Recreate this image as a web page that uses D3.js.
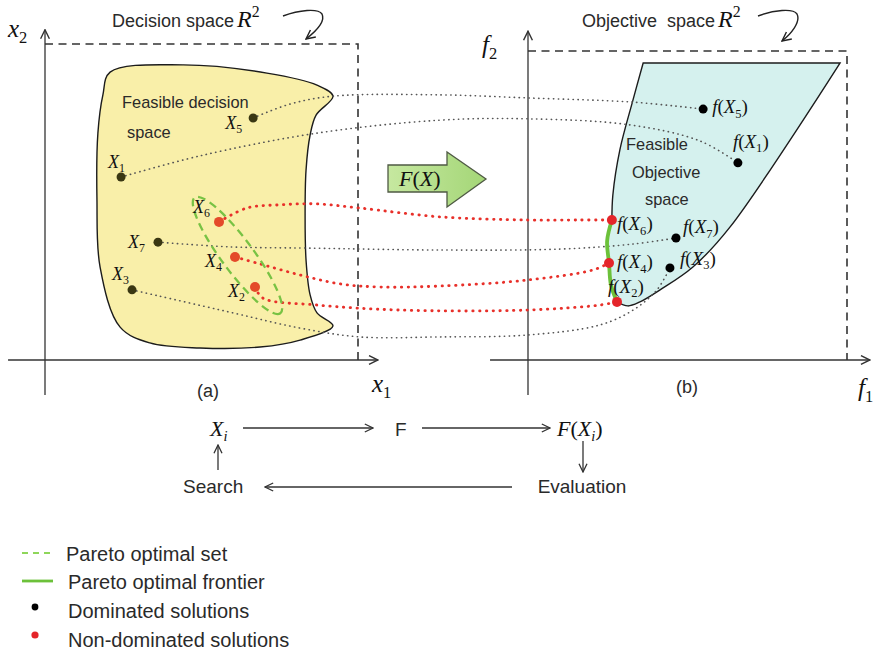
<!DOCTYPE html>
<html>
<head>
<meta charset="utf-8">
<script src="https://cdn.jsdelivr.net/npm/d3@7"></script>
<style>
  html, body { margin: 0; padding: 0; background: #fff; }
  svg { display: block; }
</style>
</head>
<body>
<svg id="fig" width="881" height="652"></svg>
<script>
// ---------- data ----------
// Seven candidate solutions X1..X7: decision variables (x1, x2) and objective values (f1, f2)
const solutionIds = [1, 2, 3, 4, 5, 6, 7];
const x1Values = [24.3, 67.1, 27.8, 60.7, 66.5, 55.6, 36.1];
const x2Values = [57.9, 23.1, 22.2, 32.6, 76.6, 43.7, 37.3];
const f1Values = [65.8, 27.9, 44.5, 25.4, 54.9, 26.3, 46.4];
const f2Values = [63.8, 18.8, 29.8, 31.4, 81.2, 45.3, 39.5];
const nonDominated = [false, true, false, true, false, true, false];

// Boundary of the feasible decision space, in (x1, x2)
const decisionOutline = [
  [20.8, 91.1], [44.1, 93.4], [70.9, 90.8], [86.9, 87.0], [92.0, 83.5],
  [86.6, 77.5], [84.7, 71.2], [83.4, 60.1], [83.1, 45.9], [83.4, 31.6],
  [84.7, 20.6], [86.9, 14.9], [92.0, 10.8],
  [81.5, 6.3], [68.7, 4.1], [49.5, 3.8], [33.5, 5.4], [24.0, 10.4],
  [17.6, 29.4], [16.6, 50.6], [16.9, 71.8], [18.5, 83.9]
];

// Boundary of the feasible objective space, in (f1, f2)
const objectiveTop   = [[36.1, 96.1], [97.8, 96.1]];
const objectiveLower = [[97.8, 96.1], [63.3, 43.0], [51.7, 30.1], [41.4, 22.7], [35.1, 18.8], [31.3, 17.5], [27.9, 18.8]];
const paretoFrontier = [[27.9, 18.8], [26.0, 24.3], [25.4, 31.4], [24.8, 38.5], [26.3, 45.3]];
const objectiveLeft  = [[26.3, 45.3], [26.6, 53.4], [28.8, 68.0], [32.9, 84.1], [36.1, 96.1]];

// Pareto optimal set (centre in x1, x2)
const paretoSetCentre = [61.5, 33.1];

// Route of each mapping X_i -> f(X_i), in decision-space units (x1 beyond 100 lies right of panel a)
const mappingRoutes = [
  [[49.5, 64.6], [86.9, 71.8], [126.2, 75.9], [155.0, 76.3], [186.9, 74.4], [209.3, 69.3]],
  [[69.6, 19.6], [86.9, 17.4], [113.4, 15.8], [154.0, 15.8], [177.3, 17.4]],
  [[60.1, 14.9], [81.5, 10.1], [100.6, 7.3], [126.2, 7.3], [154.0, 7.9], [177.3, 11.1], [187.9, 15.8], [195.5, 22.2]],
  [[68.7, 30.4], [81.5, 26.9], [94.2, 24.1], [107.0, 23.1], [126.2, 23.4], [154.0, 25.3], [175.1, 28.5]],
  [[78.3, 81.0], [92.0, 83.5], [126.2, 83.9], [155.0, 82.9], [187.9, 81.6]],
  [[64.5, 48.1], [75.1, 49.1], [86.9, 49.4], [100.6, 48.1], [126.2, 45.3], [154.0, 44.3], [170.9, 44.3]],
  [[59.1, 35.8], [84.7, 35.4], [126.2, 34.8], [164.5, 35.1], [187.9, 36.7]]
];

const legendLabels = ["Pareto optimal set", "Pareto optimal frontier", "Dominated solutions", "Non-dominated solutions"];

// ---------- layout ----------
const SANS = '"Liberation Sans", Arial, Helvetica, sans-serif';
const SERIF = '"Liberation Serif", "Times New Roman", serif';
const INK = "#2a2a2a";

const svg = d3.select("#fig");

// panel scales: 0..100 spans from the axis origin to the dashed bounding box
const ax = d3.scaleLinear().domain([0, 100]).range([45, 358]);
const ay = d3.scaleLinear().domain([0, 100]).range([360, 44]);
const bx = d3.scaleLinear().domain([0, 100]).range([528, 847]);
const by = d3.scaleLinear().domain([0, 100]).range([360, 51]);

const decisionLabelOffset = [[-13, -9], [-27, 10], [-20, -10], [-30, 10], [-28, 11], [-26, -9], [-30, 6]];
const objectiveLabelOffset = [[-5, -15], [-9, -9], [10, -3], [8, 5], [9, 4], [5, 10], [7, -5]];

// ---------- defs ----------
const defs = svg.append("defs");
function openHead(id, color, size) {
  defs.append("marker")
    .attr("id", id)
    .attr("viewBox", "0 0 10 10")
    .attr("refX", 9.2).attr("refY", 5)
    .attr("markerWidth", size).attr("markerHeight", size)
    .attr("markerUnits", "userSpaceOnUse")
    .attr("orient", "auto")
    .append("path")
    .attr("d", "M1,1 L9.2,5 L1,9")
    .attr("fill", "none")
    .attr("stroke", color)
    .attr("stroke-width", 1.3)
    .attr("stroke-linejoin", "miter");
}
openHead("axisHead", "#333", 11);
openHead("flowHead", "#333", 10);
openHead("curlHead", "#222", 11);

const grad = defs.append("linearGradient").attr("id", "arrowFill")
  .attr("x1", "0").attr("y1", "0").attr("x2", "1").attr("y2", "0");
grad.append("stop").attr("offset", "0").attr("stop-color", "#c6e8a0");
grad.append("stop").attr("offset", "1").attr("stop-color", "#a4d677");

// ---------- helpers ----------
// parts: [text, kind] with kind r (roman), i (italic), sub, subi (italic subscript), sup
function mathText(parent, x, y, parts, size, anchor) {
  const t = parent.append("text")
    .attr("x", x).attr("y", y)
    .attr("font-family", SERIF)
    .attr("font-size", size)
    .attr("fill", "#111");
  if (anchor) t.attr("text-anchor", anchor);
  let shift = 0;
  parts.forEach(([s, kind]) => {
    const ts = t.append("tspan").text(s);
    let target = 0, fs = size;
    if (kind === "sub" || kind === "subi") { target = size * 0.24; fs = size * 0.66; }
    if (kind === "sup") { target = -size * 0.42; fs = size * 0.66; }
    if (kind === "i" || kind === "subi") ts.attr("font-style", "italic");
    ts.attr("font-size", fs);
    if (target !== shift) { ts.attr("dy", target - shift); shift = target; }
  });
  return t;
}

function asContinuation(pathString) {
  return pathString.replace(/^M/, "L");
}

// ---------- feasible regions ----------
const blobLine = d3.line()
  .x(d => ax(d[0])).y(d => ay(d[1]))
  .curve(d3.curveCatmullRomClosed.alpha(0.5));

svg.append("path")
  .attr("d", blobLine(decisionOutline))
  .attr("fill", "#f9efa9")
  .attr("stroke", "#1c1c1c")
  .attr("stroke-width", 1.4);

const objLinear = d3.line().x(d => bx(d[0])).y(d => by(d[1]));
const objCurve = d3.line().x(d => bx(d[0])).y(d => by(d[1])).curve(d3.curveCatmullRom.alpha(0.5));

const objectivePath =
  objLinear(objectiveTop) +
  asContinuation(objCurve(objectiveLower)) +
  asContinuation(objCurve(paretoFrontier)) +
  asContinuation(objCurve(objectiveLeft)) + "Z";

svg.append("path")
  .attr("d", objectivePath)
  .attr("fill", "#d5f1ee")
  .attr("stroke", "#1c1c1c")
  .attr("stroke-width", 1.4)
  .attr("stroke-linejoin", "miter");

// ---------- axes ----------
const axes = svg.append("g").attr("stroke", "#333").attr("stroke-width", 1.3).attr("fill", "none");
// panel (a)
axes.append("line").attr("x1", ax(0)).attr("y1", ay(-11.1)).attr("x2", ax(0)).attr("y2", ay(104.5)).attr("marker-end", "url(#axisHead)");
axes.append("line").attr("x1", ax(-11.8)).attr("y1", ay(0)).attr("x2", ax(106.4)).attr("y2", ay(0)).attr("marker-end", "url(#axisHead)");
// panel (b)
axes.append("line").attr("x1", bx(0)).attr("y1", by(-11.3)).attr("x2", bx(0)).attr("y2", by(106.4)).attr("marker-end", "url(#axisHead)");
axes.append("line").attr("x1", bx(-11.9)).attr("y1", by(0)).attr("x2", bx(107.2)).attr("y2", by(0)).attr("marker-end", "url(#axisHead)");

// dashed bounding boxes of R^2
const box = svg.append("g").attr("fill", "none").attr("stroke", "#333").attr("stroke-width", 1.6).attr("stroke-dasharray", "8 5.5");
box.append("path").attr("d", `M${ax(0)},${ay(100)} L${ax(100)},${ay(100)} L${ax(100)},${ay(0)}`);
box.append("path").attr("d", `M${bx(0)},${by(100)} L${bx(100)},${by(100)} L${bx(100)},${by(0)}`);

// axis labels
mathText(svg, 8, 37, [["x", "i"], ["2", "sub"]], 25);
mathText(svg, 372, 392, [["x", "i"], ["1", "sub"]], 25);
mathText(svg, 482, 53, [["f", "i"], ["2", "sub"]], 25);
mathText(svg, 858, 396, [["f", "i"], ["1", "sub"]], 25);

// ---------- mapping lines X_i -> f(X_i) ----------
const routeLine = d3.line().curve(d3.curveCatmullRom.alpha(0.5));
solutionIds.forEach((id, i) => {
  const pts = [[ax(x1Values[i]), ay(x2Values[i])]]
    .concat(mappingRoutes[i].map(p => [ax(p[0]), ay(p[1])]))
    .concat([[bx(f1Values[i]), by(f2Values[i])]]);
  const p = svg.append("path")
    .attr("d", routeLine(pts))
    .attr("fill", "none")
    .attr("stroke-linecap", "round");
  if (nonDominated[i]) {
    p.attr("stroke", "#e8302a").attr("stroke-width", 2.8).attr("stroke-dasharray", "0.4 6.4");
  } else {
    p.attr("stroke", "#555").attr("stroke-width", 1.6).attr("stroke-dasharray", "0.3 4.6");
  }
});

// ---------- Pareto optimal set and frontier ----------
svg.append("ellipse")
  .attr("cx", ax(paretoSetCentre[0]))
  .attr("cy", ay(paretoSetCentre[1]))
  .attr("rx", 72).attr("ry", 16)
  .attr("transform", `rotate(53.5 ${ax(paretoSetCentre[0])} ${ay(paretoSetCentre[1])})`)
  .attr("fill", "none")
  .attr("stroke", "#78c244")
  .attr("stroke-width", 2.3)
  .attr("stroke-dasharray", "8 5");

svg.append("path")
  .attr("d", objCurve(paretoFrontier))
  .attr("fill", "none")
  .attr("stroke", "#6cc13a")
  .attr("stroke-width", 3.8)
  .attr("stroke-linecap", "round");

// ---------- solution points ----------
solutionIds.forEach((id, i) => {
  svg.append("circle")
    .attr("cx", ax(x1Values[i])).attr("cy", ay(x2Values[i]))
    .attr("r", nonDominated[i] ? 5 : 4.5)
    .attr("fill", nonDominated[i] ? "#e44a2a" : "#3a3712");
  svg.append("circle")
    .attr("cx", bx(f1Values[i])).attr("cy", by(f2Values[i]))
    .attr("r", nonDominated[i] ? 5 : 4.5)
    .attr("fill", nonDominated[i] ? "#e4252a" : "#000");

  const lo = decisionLabelOffset[i];
  mathText(svg, ax(x1Values[i]) + lo[0], ay(x2Values[i]) + lo[1], [["X", "i"], [String(id), "sub"]], 18);
  const ro = objectiveLabelOffset[i];
  mathText(svg, bx(f1Values[i]) + ro[0], by(f2Values[i]) + ro[1],
    [["f", "i"], ["(", "r"], ["X", "i"], [String(id), "sub"], [")", "r"]], 19);
});

// ---------- region captions ----------
const caption = svg.append("g").attr("font-family", SANS).attr("fill", INK).attr("font-size", 16.4);
caption.append("text").attr("x", 122).attr("y", 108).text("Feasible decision");
caption.append("text").attr("x", 127).attr("y", 138).text("space");
caption.append("text").attr("x", 626).attr("y", 150).text("Feasible");
caption.append("text").attr("x", 632).attr("y", 178).text("Objective");
caption.append("text").attr("x", 645).attr("y", 205).text("space");

// panel titles, each followed by R^2
function title(x, label) {
  const t = svg.append("text").attr("x", x).attr("y", 27)
    .attr("font-family", SANS).attr("font-size", 18).attr("fill", INK).text(label);
  const end = x + t.node().getComputedTextLength();
  mathText(svg, end + 3, 27, [["R", "i"], ["2", "sup"]], 24);
}
title(112, "Decision space");
title(582, "Objective\u00a0 space");

// curled pointers from the titles to the boxes
const curl = svg.append("g").attr("fill", "none").attr("stroke", "#222").attr("stroke-width", 1.4);
curl.append("path").attr("d", "M283,16 C299,10 318,8 322,14 C326,22 315,32 306,39").attr("marker-end", "url(#curlHead)");
curl.append("path").attr("d", "M758,16 C774,10 793,8 797,14 C801,22 791,34 782,41").attr("marker-end", "url(#curlHead)");

// panel tags
svg.append("text").attr("x", 208).attr("y", 397).attr("text-anchor", "middle").attr("font-family", SANS).attr("font-size", 18).attr("fill", INK).text("(a)");
svg.append("text").attr("x", 687).attr("y", 393).attr("text-anchor", "middle").attr("font-family", SANS).attr("font-size", 18).attr("fill", INK).text("(b)");

// ---------- mapping F(X) block arrow ----------
const arrowShape = [[388, 165], [447, 165], [447, 152], [486, 179], [447, 207], [447, 192], [388, 192]];
svg.append("path")
  .attr("d", d3.line()(arrowShape) + "Z")
  .attr("fill", "url(#arrowFill)")
  .attr("stroke", "#4f5a44")
  .attr("stroke-width", 1.3)
  .attr("stroke-linejoin", "miter");
mathText(svg, 399, 186, [["F", "i"], ["(", "r"], ["X", "i"], [")", "r"]], 22);

// ---------- search / evaluation loop ----------
const flow = svg.append("g").attr("stroke", "#333").attr("stroke-width", 1.3).attr("fill", "none");
flow.append("line").attr("x1", 243).attr("y1", 428).attr("x2", 373).attr("y2", 428).attr("marker-end", "url(#flowHead)");
flow.append("line").attr("x1", 422).attr("y1", 428).attr("x2", 550).attr("y2", 428).attr("marker-end", "url(#flowHead)");
flow.append("line").attr("x1", 583).attr("y1", 441).attr("x2", 583).attr("y2", 472).attr("marker-end", "url(#flowHead)");
flow.append("line").attr("x1", 512).attr("y1", 487).attr("x2", 265).attr("y2", 487).attr("marker-end", "url(#flowHead)");
flow.append("line").attr("x1", 218).attr("y1", 470).attr("x2", 218).attr("y2", 445).attr("marker-end", "url(#flowHead)");

mathText(svg, 210, 436, [["X", "i"], ["i", "subi"]], 22);
svg.append("text").attr("x", 395).attr("y", 436).attr("font-family", SANS).attr("font-size", 19).attr("fill", INK).text("F");
mathText(svg, 557, 436, [["F", "i"], ["(", "r"], ["X", "i"], ["i", "subi"], [")", "r"]], 22);
svg.append("text").attr("x", 582).attr("y", 493).attr("text-anchor", "middle").attr("font-family", SANS).attr("font-size", 19).attr("fill", INK).text("Evaluation");
svg.append("text").attr("x", 183).attr("y", 493).attr("font-family", SANS).attr("font-size", 19).attr("fill", INK).text("Search");

// ---------- legend ----------
const legend = svg.append("g");
legend.append("line").attr("x1", 22).attr("x2", 53).attr("y1", 553).attr("y2", 553)
  .attr("stroke", "#8ed65a").attr("stroke-width", 1.8).attr("stroke-dasharray", "6 5");
legend.append("line").attr("x1", 22).attr("x2", 53).attr("y1", 581).attr("y2", 581)
  .attr("stroke", "#6cc13a").attr("stroke-width", 2.8);
legend.append("circle").attr("cx", 35).attr("cy", 607).attr("r", 3.4).attr("fill", "#000");
legend.append("circle").attr("cx", 35).attr("cy", 635).attr("r", 3.6).attr("fill", "#e4252a");
const legendX = [66, 68, 68, 68];
const legendY = [561, 589, 618, 647];
legendLabels.forEach((s, i) => {
  legend.append("text").attr("x", legendX[i]).attr("y", legendY[i])
    .attr("font-family", SANS).attr("font-size", 20).attr("fill", INK).text(s);
});
</script>
</body>
</html>
